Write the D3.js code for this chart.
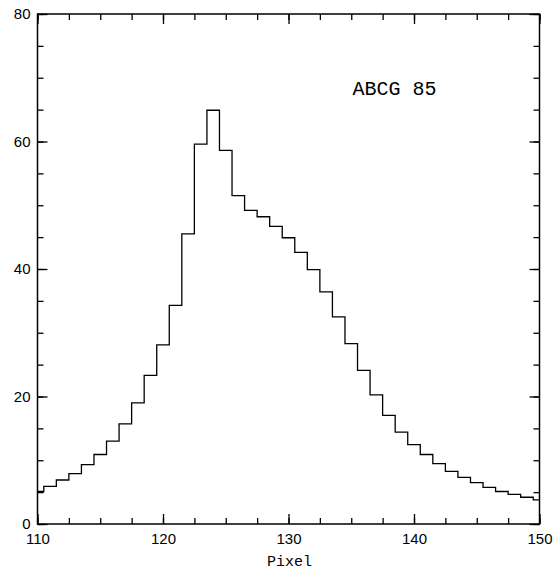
<!doctype html>
<html>
<head>
    <meta charset="utf-8">
    <title>ABCG 85 profile</title>
    <script src="https://d3js.org/d3.v7.min.js"></script>
</head>

<style>
    body { margin: 0; background: #fff; }
    .tick text { font: 15px "Liberation Sans", Arial, sans-serif; fill: #000; }
    .domain { stroke: none; }
    .label { font: 15px "Liberation Mono", "Courier New", monospace; fill: #000; }
</style>

<body>

    <script>

    // histogram bins (pixel centres) and counts
    var pixels = d3.range(110, 151);
    var counts = [5.1, 5.9, 6.9, 7.9, 9.3, 10.9, 13.0, 15.7, 19.0, 23.3,
                  28.1, 34.3, 45.5, 59.6, 64.9, 58.6, 51.5, 49.2, 48.2, 46.7,
                  44.9, 42.6, 39.9, 36.4, 32.5, 28.3, 24.1, 20.25, 17.05, 14.4,
                  12.45, 10.9, 9.47, 8.26, 7.3, 6.5, 5.75, 5.1, 4.65, 4.2, 3.77];

    var xMajor = [110, 120, 130, 140, 150];
    var yMajor = [0, 20, 40, 60, 80];
    var xMinor = d3.range(110, 150.1, 2.5);
    var yMinor = d3.range(0, 80.1, 5);

    var title = 'ABCG 85';
    var xLabel = 'Pixel';

    //set canvas parameters
    var canvasWidth = 555;
    var canvasHeight = 571;
    var plotLeft = 37.5, plotRight = 539.5, plotTop = 14, plotBottom = 524;

    var svg = d3.select('body')
                .append('svg')
                .attr('width', canvasWidth)
                .attr('height', canvasHeight);

    var xScale = d3.scaleLinear().domain([110, 150]).range([plotLeft, plotRight]);
    var yScale = d3.scaleLinear().domain([0, 80]).range([plotBottom, plotTop]);

    var majorLen = 10, minorLen = 6;

    // draws one side of the frame: minor ticks, then major ticks with or without labels
    function side(axisFn, scale, minor, major, pos, labels) {
        svg.append('g')
           .attr('transform', pos)
           .call(axisFn(scale).tickValues(minor).tickSize(-minorLen).tickFormat(''))
           .selectAll('line').attr('stroke', '#000').attr('stroke-width', 1.3);
        var g = svg.append('g')
           .attr('transform', pos)
           .call(axisFn(scale).tickValues(major).tickSize(-majorLen).tickPadding(6)
                 .tickFormat(labels ? d3.format('d') : ''));
        g.selectAll('line').attr('stroke', '#000').attr('stroke-width', 1.3);
        return g;
    }

    var gx = side(d3.axisBottom, xScale, xMinor, xMajor, 'translate(0,' + plotBottom + ')', true);
    gx.selectAll('text').attr('y', 9).attr('dy', '0.71em');
    side(d3.axisTop, xScale, xMinor, xMajor, 'translate(0,' + plotTop + ')', false);
    var gy = side(d3.axisLeft, yScale, yMinor, yMajor, 'translate(' + plotLeft + ',0)', true);
    gy.selectAll('text').attr('x', -7);
    side(d3.axisRight, yScale, yMinor, yMajor, 'translate(' + plotRight + ',0)', false);

    // frame
    svg.append('rect')
       .attr('x', plotLeft)
       .attr('y', plotTop)
       .attr('width', plotRight - plotLeft)
       .attr('height', plotBottom - plotTop)
       .attr('fill', 'none')
       .attr('stroke', '#000')
       .attr('stroke-width', 1.5);

    // stepped histogram, edges half way between bin centres
    var line = d3.line()
                 .x(function(d, i) { return xScale(pixels[i]); })
                 .y(function(d) { return yScale(d); })
                 .curve(d3.curveStep);

    svg.append('path')
       .datum(counts)
       .attr('d', line)
       .attr('fill', 'none')
       .attr('stroke', '#000')
       .attr('stroke-width', 1.3);

    // annotation
    svg.append('text')
       .attr('class', 'label')
       .attr('x', xScale(135.1))
       .attr('y', yScale(67.3))
       .style('font-size', '20px')
       .text(title);

    // x-axis label
    svg.append('text')
       .attr('class', 'label')
       .attr('x', (plotLeft + plotRight) / 2 + 1)
       .attr('y', 566)
       .style('text-anchor', 'middle')
       .text(xLabel);

    </script>

</body>
</html>
